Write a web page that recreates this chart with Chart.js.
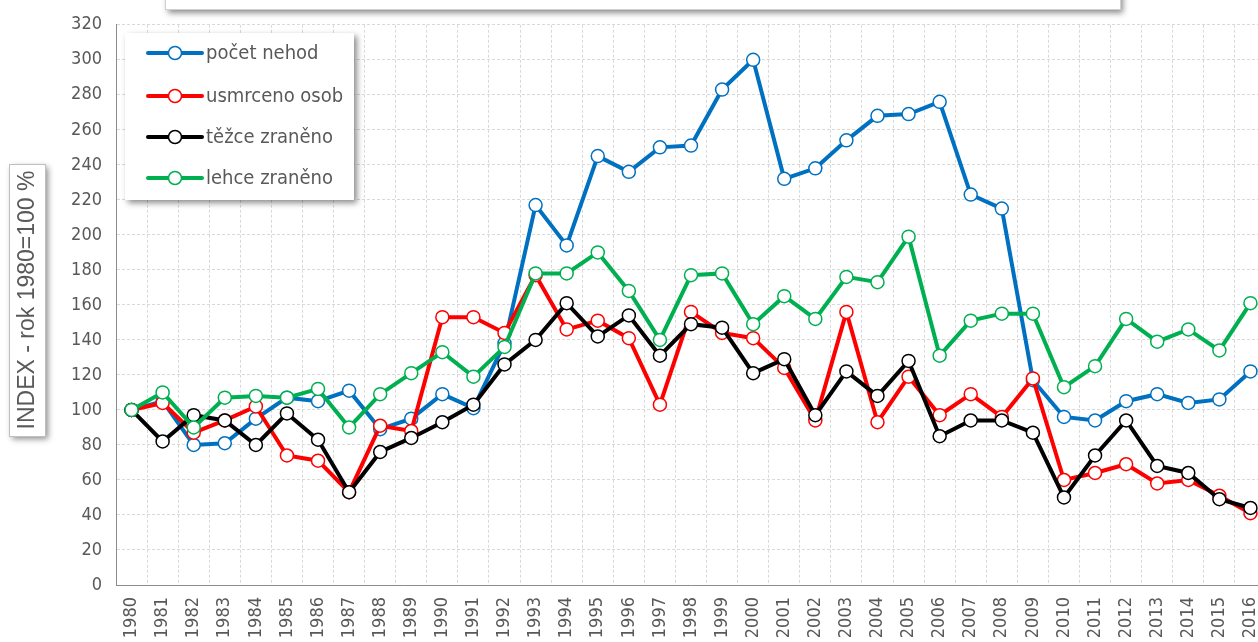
<!DOCTYPE html>
<html><head><meta charset="utf-8">
<script src="https://cdn.jsdelivr.net/npm/chart.js@4.4.1/dist/chart.umd.min.js"></script>
<style>
html,body{margin:0;padding:0;overflow:hidden;background:#fff;width:1258px;height:642px}
#wrap{position:absolute;left:0;top:0;width:1290px;height:690px}
</style></head>
<body><div id="wrap"><canvas id="c" width="1290" height="690"></canvas></div>
<script>
const years = ['1980','1981','1982','1983','1984','1985','1986','1987','1988','1989','1990','1991','1992','1993','1994','1995','1996','1997','1998','1999','2000','2001','2002','2003','2004','2005','2006','2007','2008','2009','2010','2011','2012','2013','2014','2015','2016'];
const pocetNehod = [100,105,80,81,95,107,105,111,89,95,109,101,138,217,194,245,236,250,251,283,300,232,238,254,268,269,276,223,215,117,96,94,105,109,104,106,122];
const usmrcenoOsob = [100,104,87,94,102,74,71,53,91,88,153,153,144,177,146,151,141,103,156,144,141,124,94,156,93,119,97,109,96,118,60,64,69,58,60,51,41];
const tezceZraneno = [100,82,97,94,80,98,83,53,76,84,93,103,126,140,161,142,154,131,149,147,121,129,97,122,108,128,85,94,94,87,50,74,94,68,64,49,44];
const lehceZraneno = [100,110,90,107,108,107,112,90,109,121,133,119,136,178,178,190,168,140,177,178,149,165,152,176,173,199,131,151,155,155,113,125,152,139,146,134,161];
const seriesNames = ['počet nehod','usmrceno osob','těžce zraněno','lehce zraněno'];
const seriesColors = ['#0070C0','#FF0000','#000000','#00B050'];
const yTitle = 'INDEX - rok 1980=100 %';

const NARROW = '"Liberation Sans Narrow","Arial Narrow","DejaVu Sans Condensed",sans-serif';
const REG = '"Liberation Sans",Arial,sans-serif';
const W = 1290, H = 690;

function ds(label, data, color, order){
  return {label, data, borderColor: color, backgroundColor: color, borderWidth: 4,
    pointRadius: 6.5, pointHoverRadius: 6.5, pointBorderWidth: 1.5,
    pointBackgroundColor: '#ffffff', pointBorderColor: color, tension: 0, order};
}

function shadowBox(ctx, x, y, w, h){
  ctx.save();
  ctx.shadowColor = 'rgba(0,0,0,0.45)';
  ctx.shadowBlur = 6; ctx.shadowOffsetX = 3; ctx.shadowOffsetY = 3;
  ctx.fillStyle = '#ffffff';
  ctx.fillRect(x, y, w, h);
  ctx.restore();
}

const deco = {
  id: 'deco',
  afterDraw(chart){
    const ctx = chart.ctx;
    // top title box (cropped)
    shadowBox(ctx, 165, -30, 955, 40);
    ctx.save(); ctx.strokeStyle = '#d0d0d0'; ctx.lineWidth = 1;
    ctx.strokeRect(165.5, -30.5, 955, 40); ctx.restore();
    // y axis title box
    shadowBox(ctx, 9, 164, 36, 272);
    ctx.save(); ctx.strokeStyle = '#bfbfbf'; ctx.lineWidth = 1;
    ctx.strokeRect(9.5, 164.5, 36, 272);
    ctx.translate(27, 300); ctx.rotate(-Math.PI/2);
    ctx.fillStyle = '#595959'; ctx.font = '23px ' + REG;
    ctx.textAlign = 'center'; ctx.textBaseline = 'middle';
    ctx.fillText(yTitle, 0, 1);
    ctx.restore();
    // legend
    shadowBox(ctx, 125, 33, 229, 167);
    ctx.save();
    const rows = [53, 96, 137, 178];
    seriesNames.forEach((n, i) => {
      const y = rows[i];
      ctx.strokeStyle = seriesColors[i]; ctx.lineWidth = 4; ctx.lineCap = 'round';
      ctx.beginPath(); ctx.moveTo(148, y); ctx.lineTo(202, y); ctx.stroke();
      ctx.beginPath(); ctx.arc(175, y, 6.5, 0, Math.PI*2);
      ctx.fillStyle = '#fff'; ctx.fill();
      ctx.lineWidth = 1.5; ctx.stroke();
      ctx.fillStyle = '#595959'; ctx.font = '20px ' + NARROW;
      ctx.textAlign = 'left'; ctx.textBaseline = 'middle';
      ctx.fillText(n, 206, y + 1);
    });
    ctx.restore();
  }
};

new Chart(document.getElementById('c'), {
  type: 'line',
  data: {
    labels: years,
    datasets: [
      ds(seriesNames[0], pocetNehod, seriesColors[0], 4),
      ds(seriesNames[1], usmrcenoOsob, seriesColors[1], 3),
      ds(seriesNames[2], tezceZraneno, seriesColors[2], 2),
      ds(seriesNames[3], lehceZraneno, seriesColors[3], 1)
    ]
  },
  options: {
    responsive: false, animation: false, devicePixelRatio: 1,
    layout: { padding: { top: 23, left: 0, right: W - 1266, bottom: 0 } },
    plugins: { legend: { display: false }, tooltip: { enabled: false }, title: { display: false } },
    scales: {
      x: {
        offset: true,
        grid: { offset: true, color: '#d9d9d9', lineWidth: 1, drawTicks: false },
        border: { display: true, color: '#8c8c8c', width: 1, dash: [3, 2] },
        ticks: { color: '#595959', font: { family: NARROW, size: 18 }, minRotation: 90, maxRotation: 90, padding: 12, autoSkip: false },
        afterFit(s){ s.height = H - 585; s.paddingLeft = 0; s.paddingRight = 0; }
      },
      y: {
        min: 0, max: 320,
        grid: { color: '#d9d9d9', lineWidth: 1, drawTicks: false },
        border: { display: true, color: '#8c8c8c', width: 1, dash: [3, 2] },
        ticks: { stepSize: 20, color: '#595959', font: { family: NARROW, size: 18 }, padding: 14 },
        afterFit(s){ s.width = 116; }
      }
    }
  },
  plugins: [deco]
});
</script>
</body></html>
